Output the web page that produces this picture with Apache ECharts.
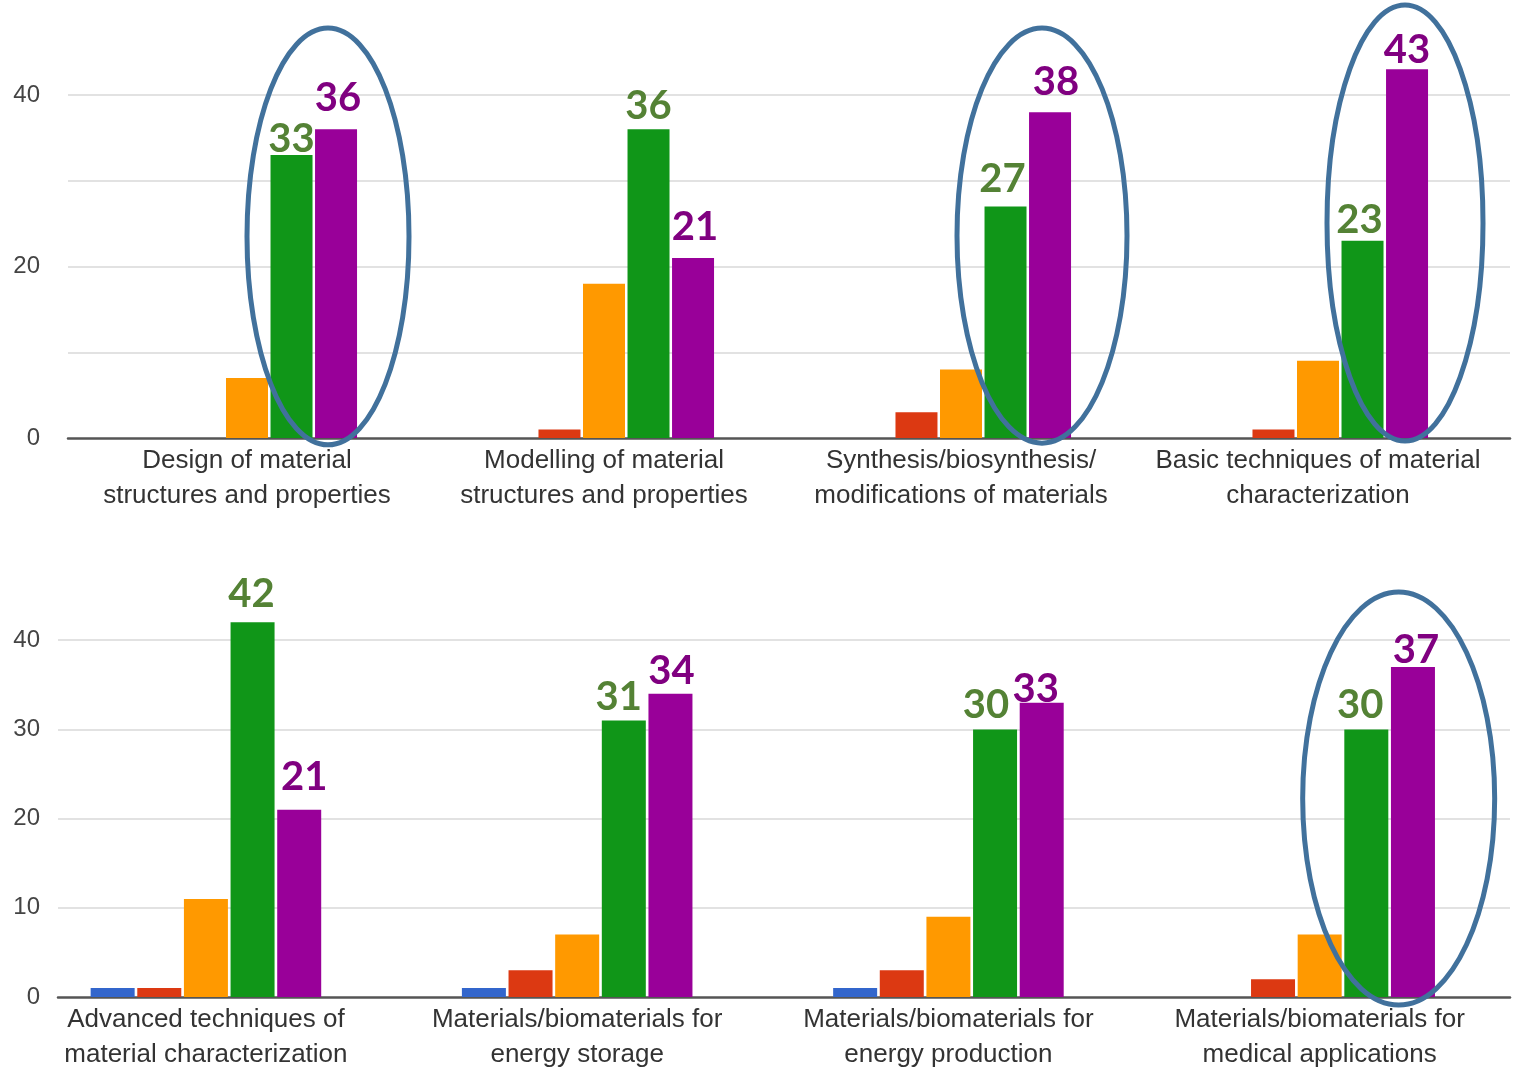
<!DOCTYPE html>
<html>
<head>
<meta charset="utf-8">
<script src="https://cdn.jsdelivr.net/npm/echarts@6/dist/echarts.min.js"></script>
<style>
  html, body { margin: 0; padding: 0; background: #fff; }
  #chart { width: 1514px; height: 1073px; }
</style>
</head>
<body>
<div id="chart"></div>
<script>
// ==================== DATA ====================
const seriesNames = ['1', '2', '3', '4', '5'];
const topCats = [
  'Design of material\nstructures and properties',
  'Modelling of material\nstructures and properties',
  'Synthesis/biosynthesis/\nmodifications of materials',
  'Basic techniques of material\ncharacterization'
];
const bottomCats = [
  'Advanced techniques of\nmaterial characterization',
  'Materials/biomaterials for\nenergy storage',
  'Materials/biomaterials for\nenergy production',
  'Materials/biomaterials for\nmedical applications'
];
const top1 = [0, 0, 0, 0];
const top2 = [0, 1, 3, 1];
const top3 = [7, 18, 8, 9];
const top4 = [33, 36, 27, 23];
const top5 = [36, 21, 38, 43];
const bot1 = [1, 1, 1, 0];
const bot2 = [1, 3, 3, 2];
const bot3 = [11, 7, 9, 7];
const bot4 = [42, 31, 30, 30];
const bot5 = [21, 34, 33, 37];
const yTicksTop = [0, 20, 40];
const yTicksBottom = [0, 10, 20, 30, 40];
// groups circled in the picture: panel, category index
const circled = [
  { panel: 0, cat: 0, dx: 81, rx: 81, yTop: 47.8, yBot: -0.8 },
  { panel: 0, cat: 2, dx: 81, rx: 85, yTop: 47.8, yBot: -0.6 },
  { panel: 0, cat: 3, dx: 87, rx: 78, yTop: 50.5, yBot: -0.35 },
  { panel: 1, cat: 3, dx: 79, rx: 96, yTop: 45.4, yBot: -0.9 }
];

// ==================== STYLE ====================
const barColors = ['#3366cc', '#dc3912', '#ff9900', '#109618', '#990099'];
const labelColors = [null, null, null, '#548235', '#800080'];
const font = '"Liberation Sans", Arial, sans-serif';
const gridC = '#e2e2e2';
// hand-placed value labels: pixel nudge [dx, dy] per category
const topGreenShift = [[0, 4], [0, -3], [-3, -7], [-3, -1]];
const topPurpleShift = [[2, -11], [2, -11], [6, -10], [0, 1]];
const botGreenShift = [[-1, -8], [-5, -3], [-9, -4], [-6, -4]];
const botPurpleShift = [[5, -13], [1, -3], [-6, 6], [3, 3]];

const chart = echarts.init(document.getElementById('chart'));

// frame grid (gridlines, y labels, baseline) + bars grid per panel
const panels = [
  { frame: { left: 68, right: 4, top: 9.25, height: 428.75 },
    bars: { left: 68.5, width: 1428, top: 9.25, height: 428.75 },
    cats: topCats, data: [top1, top2, top3, top4, top5], ticks: yTicksTop, labelMargin: 28,
    shifts: [null, null, null, topGreenShift, topPurpleShift], barWidth: 42 },
  { frame: { left: 58, right: 4, top: 551, height: 446 },
    bars: { left: 20.3, width: 1485, top: 551, height: 446 },
    cats: bottomCats, data: [bot1, bot2, bot3, bot4, bot5], ticks: yTicksBottom, labelMargin: 18,
    shifts: [null, null, null, botGreenShift, botPurpleShift], barWidth: 44 }
];

const grid = [], xAxis = [], yAxis = [], series = [];
panels.forEach(p => {
  const fi = grid.length;
  grid.push(p.frame);
  grid.push(p.bars);
  xAxis.push({
    gridIndex: fi, type: 'value', min: 0, max: 1,
    axisLine: { show: true, onZero: false, lineStyle: { color: '#555', width: 2.5 } },
    axisLabel: { show: false }, axisTick: { show: false }, splitLine: { show: false }
  });
  yAxis.push({
    gridIndex: fi, type: 'value', min: 0, max: 50, interval: 10,
    axisLine: { show: false }, axisTick: { show: false },
    axisLabel: {
      margin: p.labelMargin, color: '#444', fontSize: 24, fontFamily: font,
      formatter: v => p.ticks.includes(v) ? String(v) : ''
    },
    splitLine: { lineStyle: { color: ['transparent', gridC, gridC, gridC, gridC, 'transparent'], width: 2 } }
  });
  xAxis.push({
    gridIndex: fi + 1, type: 'category', data: p.cats,
    axisLine: { show: false }, axisTick: { show: false },
    axisLabel: { interval: 0, margin: 5, color: '#333', fontSize: 26, lineHeight: 35, fontFamily: font }
  });
  yAxis.push({ gridIndex: fi + 1, type: 'value', min: 0, max: 50, show: false });
  p.data.forEach((vals, s) => {
    const shift = p.shifts[s];
    series.push({
      name: seriesNames[s], type: 'bar', xAxisIndex: fi + 1, yAxisIndex: fi + 1,
      data: shift ? vals.map((v, k) => ({ value: v, label: { offset: shift[k] } })) : vals,
      barWidth: p.barWidth, barGap: '6%',
      itemStyle: { color: barColors[s] },
      label: labelColors[s] ? {
        show: true, position: 'top', distance: 0,
        color: labelColors[s], fontSize: 40, fontWeight: 'bold', fontFamily: 'Lato, "Open Sans", sans-serif'
      } : { show: false }
    });
  });
});

chart.setOption({
  backgroundColor: '#fff',
  animation: false,
  grid, xAxis, yAxis, series
});

// ellipses around the circled groups, placed through the bars grid scales
const ellipses = circled.map(c => {
  const gi = c.panel * 2 + 1;
  const finder = { xAxisIndex: gi, yAxisIndex: gi };
  const pTop = chart.convertToPixel(finder, [c.cat, c.yTop]);
  const pBot = chart.convertToPixel(finder, [c.cat, c.yBot]);
  return {
    type: 'ellipse', z: 100,
    shape: { cx: pTop[0] + c.dx, cy: (pTop[1] + pBot[1]) / 2, rx: c.rx, ry: (pBot[1] - pTop[1]) / 2 },
    style: { fill: 'none', stroke: '#41719c', lineWidth: 5 }
  };
});
chart.setOption({ graphic: ellipses });
</script>
</body>
</html>
